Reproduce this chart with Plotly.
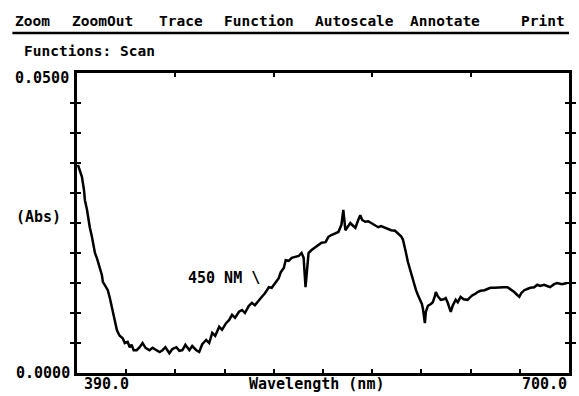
import plotly.graph_objects as go

# Absorbance scan, 390-700 nm
wavelength_nm = [
    390.6, 391.9, 393.1, 394.4, 395.0, 396.3, 396.9, 398.1, 399.4, 400.6,
    401.3, 402.5, 404.4, 405.7, 406.3, 408.2, 409.4, 410.7, 411.9, 413.2,
    413.8, 415.1, 415.7, 416.9, 418.8, 420.1, 421.9, 423.2, 424.4, 425.7,
    427.6, 429.5, 431.3, 433.2, 435.7, 437.6, 440.1, 442.0, 443.9, 445.7,
    448.2, 450.1, 452.6, 454.5, 456.4, 458.3, 460.8, 462.6, 465.2, 467.0,
    468.9, 471.4, 473.3, 475.2, 477.1, 479.6, 481.4, 483.9, 485.8, 487.7,
    489.6, 492.1, 494.0, 495.8, 498.3, 500.2, 502.1, 504.6, 506.5, 508.4,
    510.9, 512.7, 515.3, 517.1, 518.4, 520.3, 521.5, 523.4, 525.3, 527.8,
    529.7, 531.5, 532.8, 534.0, 534.7, 535.9, 537.8, 540.3, 542.2, 544.1,
    546.6, 548.4, 550.3, 552.2, 554.7, 556.6, 557.8, 559.1, 561.0, 562.2,
    564.1, 565.4, 567.2, 568.5, 569.7, 571.6, 573.5, 575.4, 577.9, 579.8,
    581.6, 584.1, 586.0, 587.9, 590.4, 592.3, 594.2, 595.4, 596.7, 597.3,
    598.5, 599.8, 601.1, 601.7, 602.9, 603.6, 604.8, 606.1, 607.3, 607.9,
    608.6, 609.2, 609.8, 611.1, 613.0, 614.2, 615.5, 616.1, 617.3, 619.2,
    621.1, 622.3, 623.6, 625.5, 626.7, 628.6, 629.9, 631.7, 633.6, 636.1,
    638.0, 639.3, 641.1, 642.4, 644.3, 646.8, 648.6, 650.5, 653.0, 656.2,
    658.7, 661.2, 663.0, 665.5, 667.4, 668.7, 669.9, 671.8, 673.7, 675.6,
    678.1, 680.0, 681.8, 684.3, 686.2, 688.1, 690.6, 692.5, 695.6, 698.7,
]
absorbance = [
    0.0347, 0.0338, 0.0327, 0.0305, 0.0288, 0.0272, 0.0260, 0.0242, 0.0227, 0.0212,
    0.0200, 0.0192, 0.0177, 0.0163, 0.0152, 0.0143, 0.0138, 0.0125, 0.0110, 0.0095,
    0.0083, 0.0072, 0.0068, 0.0062, 0.0058, 0.0050, 0.0052, 0.0043, 0.0047, 0.0038,
    0.0038, 0.0043, 0.0050, 0.0042, 0.0038, 0.0042, 0.0038, 0.0035, 0.0038, 0.0043,
    0.0033, 0.0040, 0.0043, 0.0037, 0.0038, 0.0047, 0.0038, 0.0045, 0.0038, 0.0035,
    0.0048, 0.0055, 0.0050, 0.0067, 0.0062, 0.0077, 0.0072, 0.0083, 0.0088, 0.0097,
    0.0092, 0.0102, 0.0105, 0.0100, 0.0112, 0.0117, 0.0113, 0.0122, 0.0127, 0.0133,
    0.0143, 0.0142, 0.0152, 0.0158, 0.0168, 0.0175, 0.0188, 0.0187, 0.0192, 0.0193,
    0.0195, 0.0200, 0.0192, 0.0143, 0.0163, 0.0200, 0.0205, 0.0210, 0.0213, 0.0217,
    0.0218, 0.0227, 0.0230, 0.0232, 0.0235, 0.0247, 0.0272, 0.0238, 0.0245, 0.0250,
    0.0245, 0.0242, 0.0255, 0.0263, 0.0255, 0.0252, 0.0253, 0.0250, 0.0247, 0.0243,
    0.0245, 0.0242, 0.0240, 0.0238, 0.0237, 0.0233, 0.0228, 0.0222, 0.0210, 0.0200,
    0.0185, 0.0172, 0.0162, 0.0155, 0.0145, 0.0138, 0.0130, 0.0122, 0.0115, 0.0108,
    0.0097, 0.0083, 0.0102, 0.0112, 0.0115, 0.0118, 0.0128, 0.0135, 0.0128, 0.0122,
    0.0123, 0.0125, 0.0117, 0.0102, 0.0112, 0.0122, 0.0118, 0.0127, 0.0123, 0.0122,
    0.0127, 0.0130, 0.0132, 0.0135, 0.0137, 0.0138, 0.0140, 0.0142, 0.0142, 0.0143,
    0.0143, 0.0143, 0.0140, 0.0135, 0.0130, 0.0127, 0.0133, 0.0138, 0.0140, 0.0142,
    0.0143, 0.0147, 0.0145, 0.0147, 0.0145, 0.0143, 0.0148, 0.0150, 0.0148, 0.0150,
]

x_range = [390.0, 700.0]
y_range = [0.0, 0.05]
x_tick_labels = ["390.0", "700.0"]
y_tick_labels = ["0.0000", "0.0500"]
x_title = "Wavelength (nm)"
y_title = "(Abs)"
menu_items = ["Zoom", "ZoomOut", "Trace", "Function", "Autoscale", "Annotate", "Print"]
status_text = "Functions: Scan"
marker_text = "450 NM \\"
marker_pos = (458.9, 0.0158)

W, H = 579, 396
L, R, T, B = 77, 7, 73, 23
PW, PH = W - L - R, H - T - B

def px(x):
    return (x - L) / PW

def py(y):
    return (H - B - y) / PH

FONT = dict(family="DejaVu Sans Mono", size=15, color="black", weight="bold")
MENU_FONT = dict(family="DejaVu Sans Mono", size=14.5, color="black", weight="bold")

fig = go.Figure()
fig.add_trace(go.Scatter(
    x=wavelength_nm, y=absorbance, mode="lines",
    line=dict(color="black", width=2.5), showlegend=False, hoverinfo="skip",
))
# invisible trace on the top axis so its ticks are drawn
fig.add_trace(go.Scatter(x=x_range, y=y_range, xaxis="x2", mode="lines",
                         line=dict(width=0), showlegend=False, hoverinfo="skip"))

fig.update_layout(
    width=W, height=H,
    margin=dict(l=L, r=R, t=T, b=B),
    paper_bgcolor="white", plot_bgcolor="white",
    xaxis=dict(range=x_range, showgrid=False, zeroline=False,
               showline=True, linecolor="black", linewidth=2.5, mirror=True,
               ticks="inside", tick0=390, dtick=31, ticklen=4, tickwidth=2,
               tickcolor="black", showticklabels=False),
    xaxis2=dict(range=x_range, overlaying="x", side="top", showgrid=False,
                zeroline=False, showline=False, ticks="inside", tick0=390,
                dtick=62, ticklen=4, tickwidth=2, tickcolor="black",
                showticklabels=False),
    yaxis=dict(range=y_range, showgrid=False, zeroline=False,
               showline=True, linecolor="black", linewidth=2.5, mirror="allticks",
               ticks="inside", dtick=0.005, ticklen=4, tickwidth=2,
               tickcolor="black", showticklabels=False),
)

ann = []
# menu bar
menu_x = [13, 70, 157, 223, 314, 410, 522]
for word, x0 in zip(menu_items, menu_x):
    ann.append(dict(text=word, x=px(x0), y=py(21), xref="paper", yref="paper",
                    xanchor="left", yanchor="middle", showarrow=False, font=MENU_FONT))
ann.append(dict(text=status_text, x=px(22), y=py(51), xref="paper", yref="paper",
                xanchor="left", yanchor="middle", showarrow=False, font=MENU_FONT))
# axis end labels
ann.append(dict(text=y_tick_labels[1], x=px(71), y=py(78), xref="paper", yref="paper",
                xanchor="right", yanchor="middle", showarrow=False, font=FONT))
ann.append(dict(text=y_tick_labels[0], x=px(72), y=y_range[0], xref="paper", yref="y",
                xanchor="right", yanchor="middle", showarrow=False, font=FONT))
ann.append(dict(text=y_title, x=px(14), y=py(217), xref="paper", yref="paper",
                xanchor="left", yanchor="middle", showarrow=False, font=FONT))
ann.append(dict(text=x_tick_labels[0], x=x_range[0], y=py(384), xref="x", yref="paper",
                xanchor="left", yanchor="middle", xshift=5, showarrow=False, font=FONT))
ann.append(dict(text=x_tick_labels[1], x=x_range[1], y=py(384), xref="x", yref="paper",
                xanchor="right", yanchor="middle", showarrow=False, font=FONT))
ann.append(dict(text=x_title, x=px(318), y=py(384), xref="paper", yref="paper",
                xanchor="center", yanchor="middle", showarrow=False, font=FONT))
ann.append(dict(text=marker_text, x=marker_pos[0], y=marker_pos[1], xref="x", yref="y",
                xanchor="left", yanchor="middle", showarrow=False, font=FONT))
fig.update_layout(annotations=ann)

# menu underline
fig.add_shape(type="line", xref="paper", yref="paper",
              x0=px(12), x1=px(572), y0=py(33), y1=py(33),
              line=dict(color="black", width=2.5))

fig.write_html("out.html")
